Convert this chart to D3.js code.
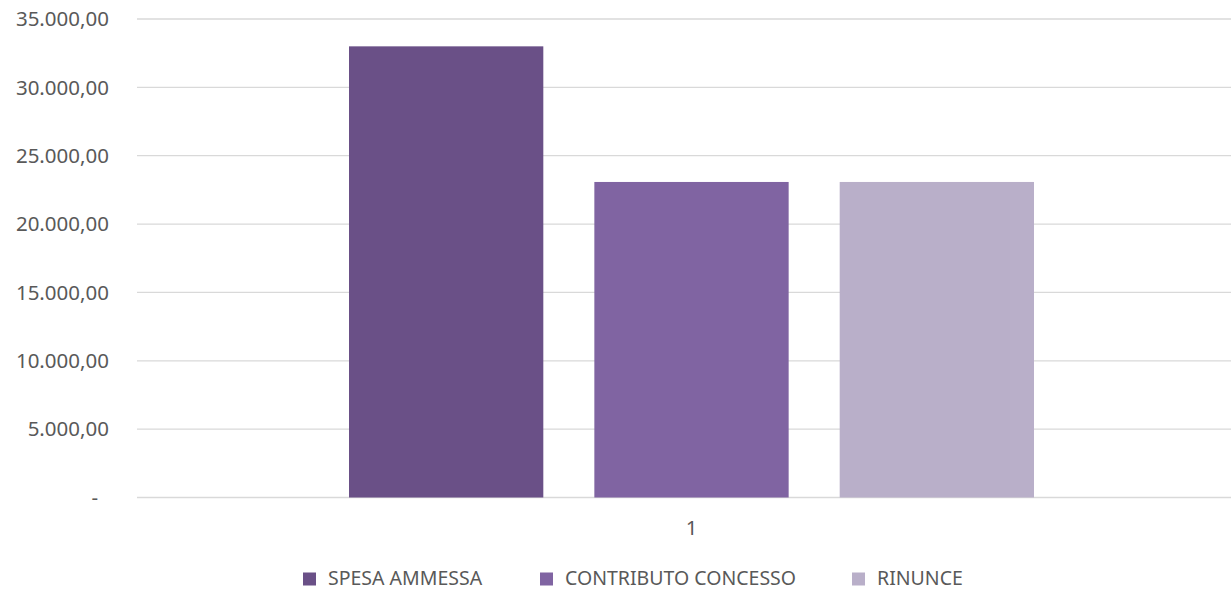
<!DOCTYPE html>
<meta charset="utf-8">
<head>
  <script src="https://d3js.org/d3.v7.min.js"></script>
  <style>
    body { margin: 0; background: #fff; }
    text { font-family: "Noto Sans", "Open Sans", sans-serif; fill: #595959; }
    .grid line { stroke: #d9d9d9; stroke-width: 1.3px; }
  </style>
</head>
<body>
  <svg width="1231" height="591"></svg>
  <script>
    const categories = ["1"];
    const seriesNames = ["SPESA AMMESSA", "CONTRIBUTO CONCESSO", "RINUNCE"];
    const seriesValues = [33000, 23080, 23080];
    const seriesColors = ["#6a5087", "#8064a2", "#b9afc9"];
    const yTicks = [0, 5000, 10000, 15000, 20000, 25000, 30000, 35000];

    const svg = d3.select("svg");
    const plotLeft = 137, plotRight = 1246, plotTop = 19, plotBottom = 497.5;

    const y = d3.scaleLinear().domain([0, 35000]).range([plotBottom, plotTop]);
    const x0 = d3.scaleBand().domain(categories).range([plotLeft, plotRight])
      .paddingInner(0).paddingOuter(0.3095);
    const x1 = d3.scaleBand().domain(seriesNames).range([0, x0.bandwidth()])
      .paddingInner(0.208).paddingOuter(0);

    const fmt = d3.formatLocale({ decimal: ",", thousands: ".", grouping: [3], currency: ["", ""] }).format(",.2f");

    // gridlines
    svg.append("g").attr("class", "grid")
      .selectAll("line").data(yTicks).enter().append("line")
      .attr("x1", plotLeft).attr("x2", plotRight)
      .attr("y1", d => y(d)).attr("y2", d => y(d));

    // y labels
    svg.append("g").selectAll("text").data(yTicks).enter().append("text")
      .attr("x", d => d === 0 ? 98 : 109)
      .attr("y", d => y(d))
      .attr("dy", "0.35em")
      .attr("text-anchor", "end")
      .style("font-size", "20.5px")
      .text(d => d === 0 ? "-" : fmt(d));

    // bars
    const g = svg.append("g").selectAll("g").data(categories).enter().append("g")
      .attr("transform", d => "translate(" + x0(d) + ",0)");
    g.selectAll("rect")
      .data(() => seriesNames.map((s, i) => ({ name: s, value: seriesValues[i], color: seriesColors[i] })))
      .enter().append("rect")
      .attr("x", d => x1(d.name))
      .attr("width", x1.bandwidth())
      .attr("y", d => y(d.value))
      .attr("height", d => y(0) - y(d.value))
      .attr("fill", d => d.color);

    // x label
    svg.append("g").selectAll("text").data(categories).enter().append("text")
      .attr("x", d => x0(d) + x0.bandwidth() / 2)
      .attr("y", 528)
      .attr("dy", "0.35em")
      .attr("text-anchor", "middle")
      .style("font-size", "20.5px")
      .text(d => d);

    // legend (kept a little higher so descenders stay inside the frame)
    const legendX = [303, 540, 852];
    const legend = svg.append("g").selectAll("g").data(seriesNames).enter().append("g")
      .attr("transform", (d, i) => "translate(" + legendX[i] + ",579)");
    legend.append("rect")
      .attr("x", 0).attr("y", -6.5).attr("width", 13).attr("height", 13)
      .attr("fill", (d, i) => seriesColors[i]);
    legend.append("text")
      .attr("x", 25).attr("y", 6)
      .style("font-size", "19.5px")
      .text(d => d);
  </script>
</body>
